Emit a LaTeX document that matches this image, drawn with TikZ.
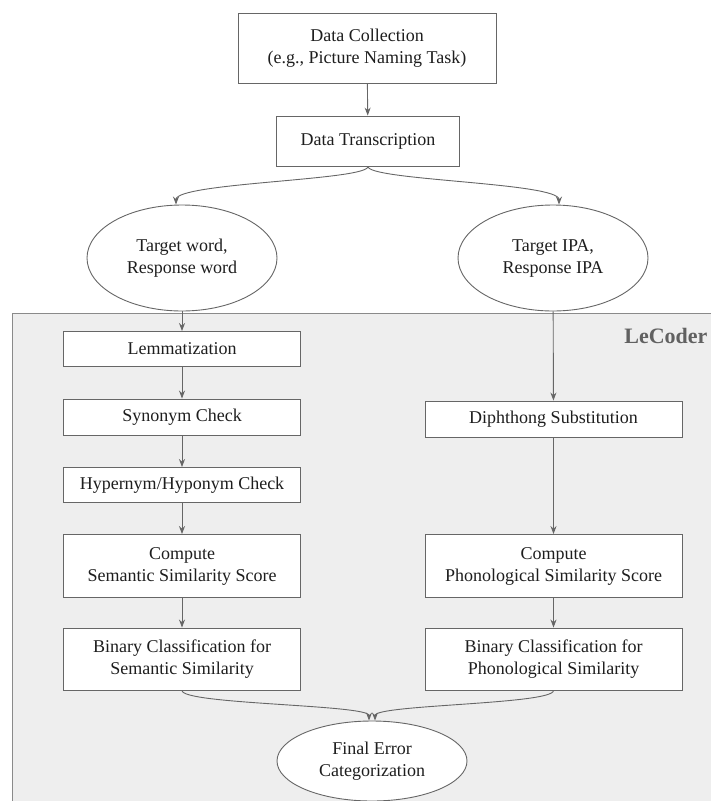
\documentclass[tikz,border=0pt]{standalone}
\usepackage{fontspec}
\setmainfont{Liberation Serif}
\newfontfamily\tnr{Liberation Serif}
\usetikzlibrary{shapes.geometric,arrows.meta}
\definecolor{edgegray}{HTML}{666666}
\definecolor{panelfill}{HTML}{EEEEEE}
\definecolor{panelline}{HTML}{8A8A8A}
\definecolor{txt}{HTML}{1E1E1E}
\begin{document}
\begin{tikzpicture}[x=1pt,y=-1pt,
  boxn/.style={draw=edgegray,line width=0.9pt,fill=white,rectangle,inner sep=0pt,
    align=center,text=txt,font=\tnr\fontsize{18}{22}\selectfont},
  elln/.style={draw=edgegray,line width=0.9pt,fill=white,ellipse,inner sep=0pt,
    align=center,text=txt,font=\tnr\fontsize{18}{22}\selectfont},
  conn/.style={draw=edgegray,line width=0.9pt,-{Stealth[length=8pt,width=6pt]}}]
\useasboundingbox (0,0) rectangle (711,801);
% panel
\fill[panelfill] (12,313) rectangle (711,801);
\draw[panelline,line width=1pt] (12,801) -- (12,313) -- (711,313);
\node[anchor=north east,text=black!62,font=\tnr\fontsize{22}{26}\selectfont\bfseries] (lec) at (711,325) {LeCoder};
% nodes
\node[boxn,minimum width=258,minimum height=70] (dc) at (367,48) {Data Collection\\(e.g., Picture Naming Task)};
\node[boxn,minimum width=183,minimum height=50] (dt) at (368,141) {Data Transcription};
\node[elln,minimum width=190,minimum height=106] (tw) at (182,258) {Target word,\\Response word};
\node[elln,minimum width=190,minimum height=106] (ti) at (553,258) {Target IPA,\\Response IPA};
\node[boxn,minimum width=237,minimum height=35] (lem) at (182,349) {Lemmatization};
\node[boxn,minimum width=237,minimum height=36] (syn) at (182,417) {Synonym Check};
\node[boxn,minimum width=237,minimum height=35] (hyp) at (182,485) {Hypernym/Hyponym Check};
\node[boxn,minimum width=237,minimum height=63] (css) at (182,566) {Compute\\Semantic Similarity Score};
\node[boxn,minimum width=237,minimum height=62] (bcs) at (182,659) {Binary Classification for\\Semantic Similarity};
\node[boxn,minimum width=257,minimum height=36] (dip) at (553.5,419) {Diphthong Substitution};
\node[boxn,minimum width=257,minimum height=63] (cps) at (553.5,566) {Compute\\Phonological Similarity Score};
\node[boxn,minimum width=257,minimum height=62] (bcp) at (553.5,659) {Binary Classification for\\Phonological Similarity};
\node[elln,minimum width=190,minimum height=80] (fin) at (372,761) {Final Error\\Categorization};
% connectors
\draw[conn] (dc) -- (dt);
\draw[conn] (dt.south) .. controls +(0,14) and +(0,-22) .. ([xshift=-6pt]tw.north);
\draw[conn] (dt.south) .. controls +(0,14) and +(0,-22) .. ([xshift=6pt]ti.north);
\draw[conn] (tw) -- (lem);
\draw[conn] (lem) -- (syn);
\draw[conn] (syn) -- (hyp);
\draw[conn] (hyp) -- (css);
\draw[conn] (css) -- (bcs);
\draw[conn] (ti) -- (dip);
\draw[conn] (dip) -- (cps);
\draw[conn] (cps) -- (bcp);
\draw[conn] (bcs.south) .. controls +(0,14) and +(0,-16) .. ([xshift=-3pt]fin.north);
\draw[conn] (bcp.south) .. controls +(0,14) and +(0,-16) .. ([xshift=3pt]fin.north);
\end{tikzpicture}
\end{document}
